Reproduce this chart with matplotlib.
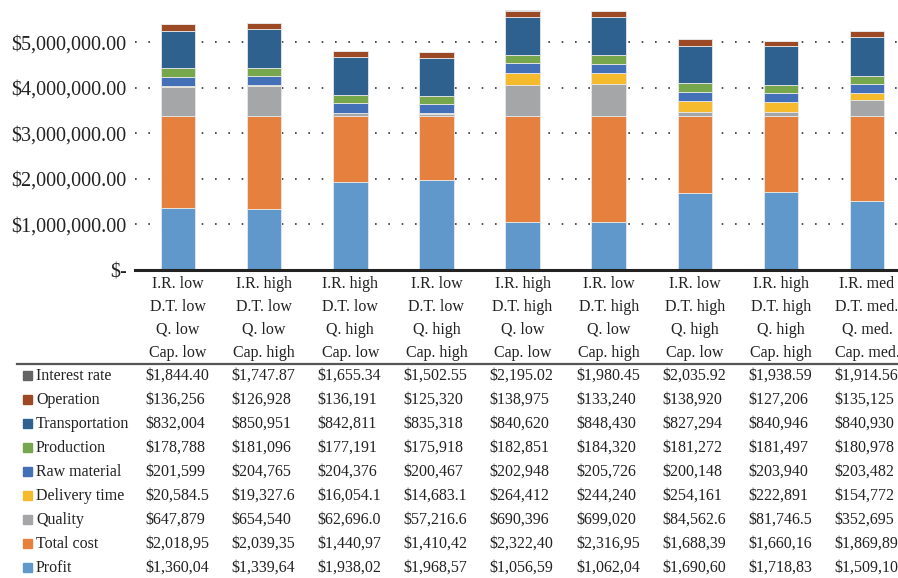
import numpy as np
import matplotlib.pyplot as plt
from matplotlib.patches import Rectangle
from matplotlib.lines import Line2D
from matplotlib.transforms import blended_transform_factory

plt.rcParams['font.family'] = ['Liberation Serif', 'DejaVu Serif']

# --- scenarios ---
scenarios = ["I.R. low\nD.T. low\nQ. low\nCap. low",
             "I.R. high\nD.T. low\nQ. low\nCap. high",
             "I.R. high\nD.T. low\nQ. high\nCap. low",
             "I.R. low\nD.T. low\nQ. high\nCap. high",
             "I.R. high\nD.T. high\nQ. low\nCap. low",
             "I.R. low\nD.T. high\nQ. low\nCap. high",
             "I.R. low\nD.T. high\nQ. high\nCap. low",
             "I.R. high\nD.T. high\nQ. high\nCap. high",
             "I.R. med\nD.T. med.\nQ. med.\nCap. med."]

# --- series (bottom to top of each stack) ---
profit = [1360040, 1339640, 1938020, 1968570, 1056590, 1062040, 1690600, 1718830, 1509100]
total_cost = [2018950, 2039350, 1440970, 1410420, 2322400, 2316950, 1688390, 1660160, 1869890]
quality = [647879, 654540, 62696.0, 57216.6, 690396, 699020, 84562.6, 81746.5, 352695]
delivery_time = [20584.5, 19327.6, 16054.1, 14683.1, 264412, 244240, 254161, 222891, 154772]
raw_material = [201599, 204765, 204376, 200467, 202948, 205726, 200148, 203940, 203482]
production = [178788, 181096, 177191, 175918, 182851, 184320, 181272, 181497, 180978]
transportation = [832004, 850951, 842811, 835318, 840620, 848430, 827294, 840946, 840930]
operation = [136256, 126928, 136191, 125320, 138975, 133240, 138920, 127206, 135125]
interest_rate = [1844.40, 1747.87, 1655.34, 1502.55, 2195.02, 1980.45, 2035.92, 1938.59, 1914.56]

series = [("Profit", profit, "#6198cb"),
          ("Total cost", total_cost, "#e6803f"),
          ("Quality", quality, "#a5a6a8"),
          ("Delivery time", delivery_time, "#f5bb2d"),
          ("Raw material", raw_material, "#4470b8"),
          ("Production", production, "#77a74d"),
          ("Transportation", transportation, "#2f618f"),
          ("Operation", operation, "#9c4a25"),
          ("Interest rate", interest_rate, "#646464")]

yticks = [0, 1e6, 2e6, 3e6, 4e6, 5e6]
ytick_labels = ["$-", "$1,000,000.00", "$2,000,000.00", "$3,000,000.00",
                "$4,000,000.00", "$5,000,000.00"]


def cell_text(v):
    # mimic the truncated cells of the source table
    if v >= 1e6:
        return f"${v:,.0f}"[:-1]
    if v >= 1e5:
        return f"${v:,.0f}"
    if v >= 1e4:
        return f"${v:,.1f}"
    return f"${v:,.2f}"


W, H = 898, 578
fig = plt.figure(figsize=(W / 100, H / 100), dpi=100)
ax = fig.add_axes([135 / W, 1 - 270 / H, (W - 135) / W, 270 / H])

x = np.arange(len(scenarios))
bottom = np.zeros(len(scenarios))
for name, vals, col in series:
    vals = np.array(vals, dtype=float)
    ax.bar(x, vals, 0.4, bottom=bottom, color=col, edgecolor="#e8e8e8",
           linewidth=0.6, zorder=3)
    bottom += vals

ax.set_xlim(-0.5, 8.36)
ax.set_ylim(0, 5.93e6)
ax.set_yticks(yticks)
ax.set_yticklabels(ytick_labels, fontsize=14.5, color="#222222")
ax.set_xticks(x)
ax.set_xticklabels(scenarios, fontsize=11.5, linespacing=1.6, color="#222222")
ax.tick_params(axis="both", length=0)
ax.tick_params(axis="x", pad=4)
ax.tick_params(axis="y", pad=6)
ax.yaxis.grid(True, linestyle=(0, (1, 7)), color="#333333", linewidth=1.2, zorder=0)
for s in ["top", "right", "left"]:
    ax.spines[s].set_visible(False)
ax.spines["bottom"].set_linewidth(2.2)
ax.spines["bottom"].set_color("#222222")
ax.spines["bottom"].set_zorder(4)

# rule under the category labels
fig.add_artist(Line2D([17 / W, 1], [1 - 364 / H, 1 - 364 / H],
                      transform=fig.transFigure, color="#555555", linewidth=1.6))

# data table
tr = blended_transform_factory(ax.transData, fig.transFigure)
row_y0 = 375
for r, (name, vals, col) in enumerate(reversed(series)):
    yc = 1 - (row_y0 + 24 * r) / H
    yb = yc - 5 / H
    fig.add_artist(Rectangle((23 / W, yc - 4.5 / H), 9 / W, 9 / H,
                             transform=fig.transFigure, color=col))
    fig.text(36 / W, yb, name, fontsize=11.5, va="baseline", ha="left", color="#222222")
    for i, v in enumerate(vals):
        ax.text(i - 0.38, yb, cell_text(v), transform=tr, fontsize=11.5,
                va="baseline", ha="left", color="#222222", clip_on=False)

fig.savefig("out.png", dpi=100)
